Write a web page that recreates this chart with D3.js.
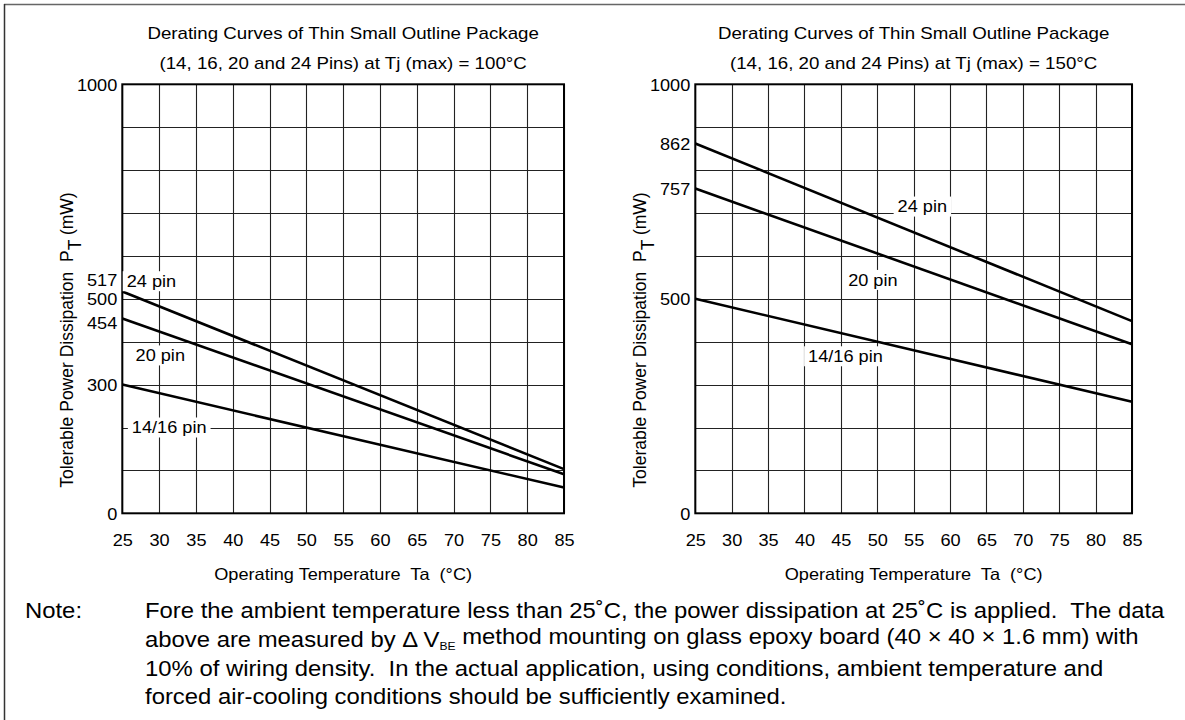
<!DOCTYPE html>
<html>
<head>
<meta charset="utf-8">
<script src="https://cdn.jsdelivr.net/npm/d3@7"></script>
<style>
  body { margin: 0; background: #fff; }
  svg text { font-family: Arial, "Liberation Sans", Helvetica, sans-serif; fill: #000; white-space: pre; }
</style>
</head>
<body>
<div id="chart"></div>
<script>
// data (mW at 25 and 85 degC)
const temperature = [25, 85];
const pin24_100 = [517, 103];
const pin20_100 = [454, 91];
const pin1416_100 = [300, 60];
const pin24_150 = [862, 448];
const pin20_150 = [757, 394];
const pin1416_150 = [500, 260];

// ticks / grid
const xTicks = [25, 30, 35, 40, 45, 50, 55, 60, 65, 70, 75, 80, 85];
const gridPower = [0, 100, 200, 300, 400, 500, 600, 700, 800, 900, 1000];
const yTicks100 = [0, 300, 454, 500, 517, 1000];
const yTicks150 = [0, 500, 757, 862, 1000];
const seriesNames = ["24 pin", "20 pin", "14/16 pin"];

const titleLine1 = "Derating Curves of Thin Small Outline Package";
const titles2 = ["(14, 16, 20 and 24 Pins) at Tj (max) = 100°C", "(14, 16, 20 and 24 Pins) at Tj (max) = 150°C"];

const W = 1185, H = 720;
const SX = 1.1; // the scan is a bit wider than plain Arial
const svg = d3.select("#chart").append("svg")
    .attr("width", W)
    .attr("height", H);

// widen horizontal text to match the scan
function stretch(sel) {
  sel.each(function() {
    const l = this.getComputedTextLength();
    d3.select(this).attr("textLength", l * SX).attr("lengthAdjust", "spacingAndGlyphs");
  });
}

// outer frame (top + left only visible)
svg.append("line").attr("x1", 4).attr("y1", 4.5).attr("x2", W).attr("y2", 4.5)
    .attr("stroke", "#666").attr("stroke-width", 1.5);
svg.append("line").attr("x1", 4.5).attr("y1", 4).attr("x2", 4.5).attr("y2", H)
    .attr("stroke", "#333").attr("stroke-width", 1.5);

function panel(opt) {
  const x = d3.scaleLinear().domain([25, 85]).range([opt.left, opt.right]);
  const y = d3.scaleLinear().domain([0, 1000]).range([513.3, 84.3]);
  const g = svg.append("g");
  const cx = (opt.left + opt.right) / 2;

  // titles
  g.append("text").attr("x", cx).attr("y", 33).attr("dy", "0.35em")
      .attr("text-anchor", "middle").style("font-size", "17px").text(titleLine1)
      .call(stretch);
  g.append("text").attr("x", cx).attr("y", 63).attr("dy", "0.35em")
      .attr("text-anchor", "middle").style("font-size", "17px").text(opt.title2)
      .call(stretch);

  // grid
  g.append("g").selectAll("line").data(gridPower).join("line")
      .attr("x1", x(25)).attr("x2", x(85))
      .attr("y1", d => Math.round(y(d)) + 0.5).attr("y2", d => Math.round(y(d)) + 0.5)
      .attr("stroke", "#222").attr("stroke-width", 1.1);
  g.append("g").selectAll("line").data(xTicks).join("line")
      .attr("x1", d => Math.round(x(d)) + 0.5).attr("x2", d => Math.round(x(d)) + 0.5)
      .attr("y1", y(0)).attr("y2", y(1000))
      .attr("stroke", "#222").attr("stroke-width", 1.1);

  // x axis labels
  const xAxis = g.append("g")
      .attr("transform", `translate(0,${y(0)})`)
      .call(d3.axisBottom(x).tickValues(xTicks).tickSize(0).tickPadding(0));
  xAxis.select(".domain").remove();
  xAxis.selectAll("text").attr("y", 27).attr("dy", "0.35em")
      .style("font-size", "16.5px").style("font-family", null).attr("fill", "#000")
      .call(stretch);

  // y axis labels
  const yAxis = g.append("g")
      .attr("transform", `translate(${opt.left},0)`)
      .call(d3.axisLeft(y).tickValues(opt.yTicks).tickSize(0).tickPadding(5).tickFormat(d3.format("d")));
  yAxis.select(".domain").remove();
  yAxis.selectAll("text")
      .attr("dy", d => (opt.tickShift[d] || 0) + 6)
      .style("font-size", "16.5px").style("font-family", null).attr("fill", "#000")
      .call(stretch);

  // curves
  const line = d3.line().x((d, i) => x(temperature[i])).y(d => y(d));
  g.append("g").selectAll("path").data(opt.series).join("path")
      .attr("d", d => line(d))
      .attr("fill", "none").attr("stroke", "#000").attr("stroke-width", 2.6);

  // frame
  g.append("rect")
      .attr("x", x(25)).attr("y", y(1000))
      .attr("width", x(85) - x(25)).attr("height", y(0) - y(1000))
      .attr("fill", "none").attr("stroke", "#000").attr("stroke-width", 2);

  // curve labels with white background
  seriesNames.forEach((name, i) => {
    const pos = opt.labelAt[i];
    const t = g.append("text")
        .attr("x", x(pos[0])).attr("y", y(pos[1])).attr("dy", "0.35em")
        .style("font-size", "16.5px").text(name)
        .call(stretch);
    const bb = t.node().getBBox();
    g.insert("rect", function() { return t.node(); })
        .attr("x", bb.x - 4).attr("y", y(pos[1]) - 10)
        .attr("width", bb.width + 8).attr("height", 20)
        .attr("fill", "#fff");
  });

  // axis titles
  g.append("text").attr("x", cx).attr("y", 574).attr("dy", "0.35em")
      .attr("text-anchor", "middle").style("font-size", "16.5px")
      .text("Operating Temperature  Ta  (°C)")
      .call(stretch);
  const yt = g.append("text")
      .attr("transform", `translate(${opt.left - 55},340) rotate(-90)`)
      .attr("text-anchor", "middle").attr("dy", "0.35em")
      .style("font-size", "17.5px");
  yt.append("tspan").text("Tolerable Power Dissipation  P");
  yt.append("tspan").attr("dy", "0.45em").text("T");
  yt.append("tspan").attr("dy", "-0.45em").text(" (mW)");
}

panel({
  left: 122.3, right: 564,
  title2: titles2[0],
  yTicks: yTicks100,
  tickShift: {517: -12, 454: 4},
  series: [pin24_100, pin20_100, pin1416_100],
  labelAt: [[25.6, 541], [26.8, 368], [26.3, 200]]
});
panel({
  left: 695.3, right: 1132,
  title2: titles2[1],
  yTicks: yTicks150,
  tickShift: {},
  series: [pin24_150, pin20_150, pin1416_150],
  labelAt: [[52.8, 715], [46, 544], [40.5, 366]]
});

// footnote
const noteLines = [
  ["Fore the ambient temperature less than 25˚C, the power dissipation at 25˚C is applied.  The data"],
  ["above are measured by Δ V", "BE", " method mounting on glass epoxy board (40 × 40 × 1.6 mm) with"],
  ["10% of wiring density.  In the actual application, using conditions, ambient temperature and"],
  ["forced air-cooling conditions should be sufficiently examined."]
];
svg.append("text").attr("x", 25).attr("y", 610.7).attr("dy", "0.35em")
    .style("font-size", "21.7px").text("Note:")
    .call(stretch);
noteLines.forEach((parts, i) => {
  const t = svg.append("text").attr("x", 145).attr("y", 610.7 + i * 28.7).attr("dy", "0.35em")
      .style("font-size", "21.7px");
  parts.forEach((p, j) => {
    const sp = t.append("tspan").text(p);
    if (j === 1) sp.attr("dy", "0.3em").style("font-size", "11px");
    if (j === 2) sp.attr("dy", "-0.3em");
  });
  t.call(stretch);
});
</script>
</body>
</html>
